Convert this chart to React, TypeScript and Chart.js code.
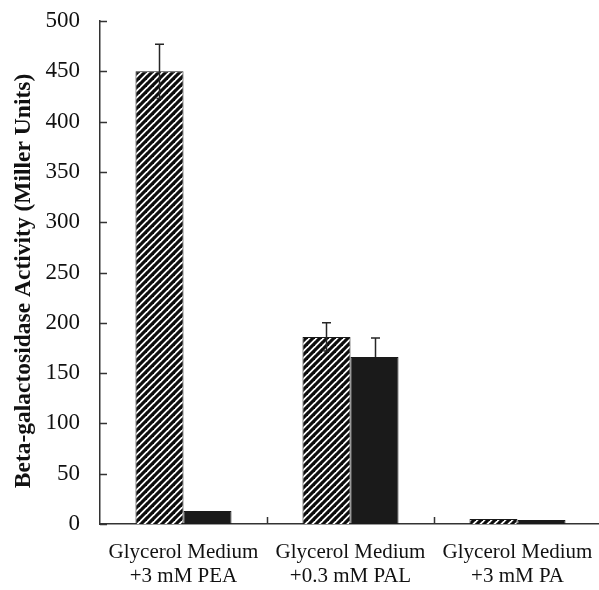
import React, { useEffect, useRef } from "react";
import { Chart, registerables } from "chart.js";

Chart.register(...registerables);

const categories: string[][] = [
  ["Glycerol Medium", "+3 mM PEA"],
  ["Glycerol Medium", "+0.3 mM PAL"],
  ["Glycerol Medium", "+3 mM PA"],
];
const hatchedValues = [450, 186, 5];
const hatchedErrors = [27, 14, 0];
const solidValues = [13, 166, 4];
const solidErrors = [0, 19, 0];
const yTicks = [0, 50, 100, 150, 200, 250, 300, 350, 400, 450, 500];
const yTitle = "Beta-galactosidase Activity (Miller Units)";

const FONT = "'Liberation Serif', 'Times New Roman', serif";
const AXIS = "#333333";

function makePattern(): CanvasPattern | string {
  const n = 7;
  const c = document.createElement("canvas");
  c.width = n;
  c.height = n;
  const g = c.getContext("2d");
  if (!g) return "#555";
  g.fillStyle = "#ffffff";
  g.fillRect(0, 0, n, n);
  g.strokeStyle = "#0d0d0d";
  g.lineWidth = 3.2;
  g.lineCap = "square";
  const segs = [
    [-n / 2, n / 2, n / 2, -n / 2],
    [0, n, n, 0],
    [n / 2, n + n / 2, n + n / 2, n / 2],
  ];
  for (const s of segs) {
    g.beginPath();
    g.moveTo(s[0], s[1]);
    g.lineTo(s[2], s[3]);
    g.stroke();
  }
  const p = g.createPattern(c, "repeat");
  return p || "#555";
}

const decorPlugin = {
  id: "decor",
  afterDatasetsDraw(chart: any) {
    const ctx = chart.ctx as CanvasRenderingContext2D;
    const x = chart.scales.x;
    const y = chart.scales.y;
    const area = chart.chartArea;
    ctx.save();
    // error bars (lower whisker hidden inside the solid bars)
    const errs = [hatchedErrors, solidErrors];
    ctx.strokeStyle = "#262626";
    ctx.lineWidth = 1.5;
    chart.data.datasets.forEach((ds: any, di: number) => {
      const meta = chart.getDatasetMeta(di);
      meta.data.forEach((bar: any, i: number) => {
        const e = errs[di][i];
        if (!e) return;
        const v = ds.data[i];
        const cx = Math.round(bar.x) + 0.5;
        const yt = y.getPixelForValue(v + e);
        const yb = di === 0 ? y.getPixelForValue(v - e) : y.getPixelForValue(v);
        ctx.beginPath();
        ctx.moveTo(cx, yb);
        ctx.lineTo(cx, yt);
        ctx.moveTo(cx - 4.5, yt);
        ctx.lineTo(cx + 4.5, yt);
        if (di === 0) {
          ctx.moveTo(cx - 3, yb);
          ctx.lineTo(cx + 3, yb);
        }
        ctx.stroke();
      });
    });
    // inward tick marks
    ctx.strokeStyle = AXIS;
    ctx.lineWidth = 1.5;
    ctx.beginPath();
    for (const t of yTicks) {
      const py = Math.round(y.getPixelForValue(t)) + 0.5;
      ctx.moveTo(area.left, py);
      ctx.lineTo(area.left + 7, py);
    }
    for (let i = 0; i < categories.length; i++) {
      const px =
        i < categories.length - 1
          ? (x.getPixelForValue(i) + x.getPixelForValue(i + 1)) / 2
          : area.right;
      const rx = Math.round(px) + 0.5;
      ctx.moveTo(rx, area.bottom);
      ctx.lineTo(rx, area.bottom - 7);
    }
    ctx.stroke();
    // y title
    ctx.fillStyle = "#111111";
    ctx.font = `bold 23.5px ${FONT}`;
    ctx.textAlign = "center";
    ctx.textBaseline = "middle";
    ctx.translate(24, 281);
    ctx.rotate(-Math.PI / 2);
    ctx.fillText(yTitle, 0, 0);
    ctx.restore();
  },
};

export default function App() {
  const ref = useRef<HTMLCanvasElement | null>(null);

  useEffect(() => {
    document.body.style.overflow = "hidden";
    const canvas = ref.current;
    if (!canvas) return;
    const pattern = makePattern();
    const chart = new Chart(canvas, {
      type: "bar",
      data: {
        labels: categories,
        datasets: [
          {
            label: "hatched",
            data: hatchedValues,
            backgroundColor: pattern as any,
            borderColor: "#1a1a1a",
            borderWidth: 1,
            categoryPercentage: 0.575,
            barPercentage: 1,
          },
          {
            label: "solid",
            data: solidValues,
            backgroundColor: "#1a1a1a",
            borderColor: "#1a1a1a",
            borderWidth: 1,
            categoryPercentage: 0.575,
            barPercentage: 1,
          },
        ],
      },
      options: {
        responsive: false,
        animation: false,
        devicePixelRatio: 1,
        layout: { padding: { top: 21, right: 19, left: 0, bottom: 0 } },
        plugins: {
          legend: { display: false },
          tooltip: { enabled: false },
          title: { display: false },
        },
        scales: {
          x: {
            grid: { display: false, drawTicks: false },
            border: { display: true, color: AXIS, width: 1.5 },
            ticks: {
              color: "#111111",
              font: { family: FONT, size: 21, lineHeight: "24px" } as any,
              padding: 16,
              maxRotation: 0,
              autoSkip: false,
            },
            afterFit: (s: any) => {
              s.height = 66;
              s.paddingLeft = 0;
              s.paddingRight = 0;
            },
          },
          y: {
            min: 0,
            max: 500,
            grid: { display: false, drawTicks: false },
            border: { display: true, color: AXIS, width: 1.5 },
            ticks: {
              stepSize: 50,
              color: "#111111",
              font: { family: FONT, size: 23 },
              padding: 20,
            },
            afterFit: (s: any) => {
              s.width = 100;
              s.paddingTop = 0;
              s.paddingBottom = 0;
            },
          },
        },
      },
      plugins: [decorPlugin],
    });
    return () => chart.destroy();
  }, []);

  return (
    <canvas
      ref={ref}
      width={620}
      height={590}
      style={{ position: "fixed", left: 0, top: 0, width: 620, height: 590 }}
    />
  );
}
